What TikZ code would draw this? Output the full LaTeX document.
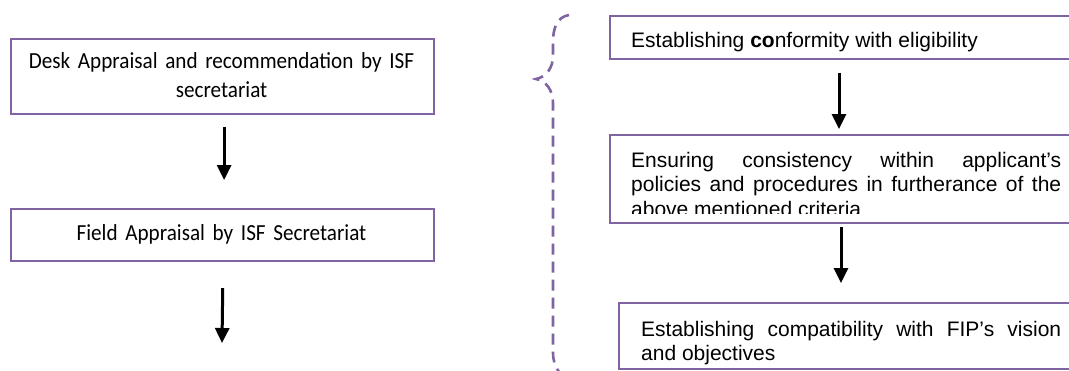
\documentclass[tikz,border=0pt]{standalone}
\usepackage{fontspec}
\usetikzlibrary{arrows.meta,calc}
\newfontfamily\arialf{Liberation Sans}
\newfontfamily\calf[FakeStretch=0.92]{Carlito}
\definecolor{boxpurple}{RGB}{128,100,162}
\tolerance=10000
\hyphenpenalty=10000
\tikzset{
  box/.style={draw=boxpurple, line width=2.2pt, inner sep=0pt, anchor=north west},
  arr/.style={-{Triangle[length=15pt,width=14pt]}, line width=3pt, black},
  bracestyle/.style={draw=boxpurple, line width=2.6pt, dash pattern=on 11pt off 7pt, line cap=butt},
  ltxt/.style={inner sep=0pt, text width=415pt, align=center, anchor=base,
    font=\calf\fontsize{23pt}{29pt}\selectfont},
  rtxt/.style={inner sep=0pt, anchor=base west,
    font=\arialf\fontsize{21pt}{24.5pt}\selectfont}
}
\begin{document}
\begin{tikzpicture}[x=1pt,y=-1pt]
\useasboundingbox (0,0) rectangle (1069,370);
\fill[white] (0,0) rectangle (1069,370);
\clip (0,0) rectangle (1069,370);

% left column
\node[box, minimum width=423pt, minimum height=75pt] (b1) at (10,38) {};
\node[ltxt] (t1) at (221.5,68) {Desk Appraisal and recommendation by ISF\\secretariat};
\node[box, minimum width=423pt, minimum height=52pt] (b2) at (10,208) {};
\node[ltxt] (t2) at (221.5,240) {Field Appraisal by ISF Secretariat};
\coordinate (e2) at (222,343);

\draw[arr, shorten <=12pt, shorten >=28pt] ($(b1.south)+(1.5,0)$) -- ($(b2.north)+(1.5,0)$);
\draw[arr, shorten <=26pt] ($(b2.south)+(0.5,0)$) -- (e2);

% brace
\draw[bracestyle] (569,15) .. controls (557,17) and (553,28) .. (553,42)
  -- (553,56) .. controls (553,68) and (546,77) .. (536,79)
  .. controls (546,81) and (553,90) .. (553,103)
  -- (553,352) .. controls (553,361) and (555,366) .. (559,372);

% right column
\node[box, minimum width=480pt, minimum height=43pt] (bA) at (609,15) {};
\node[rtxt] (tA) at (631,47) {Establishing \textbf{co}nformity with eligibility};

\node[box, minimum width=480pt, minimum height=88pt] (bB) at (609,134) {};
\begin{scope}
\clip (609,134) rectangle (1069,213);
\node[rtxt, text width=430pt, align=justify] (tB) at (631,167) {Ensuring consistency within applicant’s policies and procedures in furtherance of the above mentioned criteria};
\end{scope}

\node[box, minimum width=470pt, minimum height=66pt] (bC) at (618,302) {};
\begin{scope}
\clip (618,302) rectangle (1069,366);
\node[rtxt, text width=420pt, align=justify] (tC) at (641,336) {Establishing compatibility with FIP’s vision and objectives};
\end{scope}

\draw[arr, shorten <=13pt, shorten >=5pt] ($(bA.south west)+(230,0)$) -- ($(bA.south west |- bB.north)+(230,0)$);
\draw[arr, shorten <=3pt, shorten >=19pt] ($(bB.south west)+(232,0)$) -- ($(bB.south west |- bC.north)+(232,0)$);
\end{tikzpicture}
\end{document}
